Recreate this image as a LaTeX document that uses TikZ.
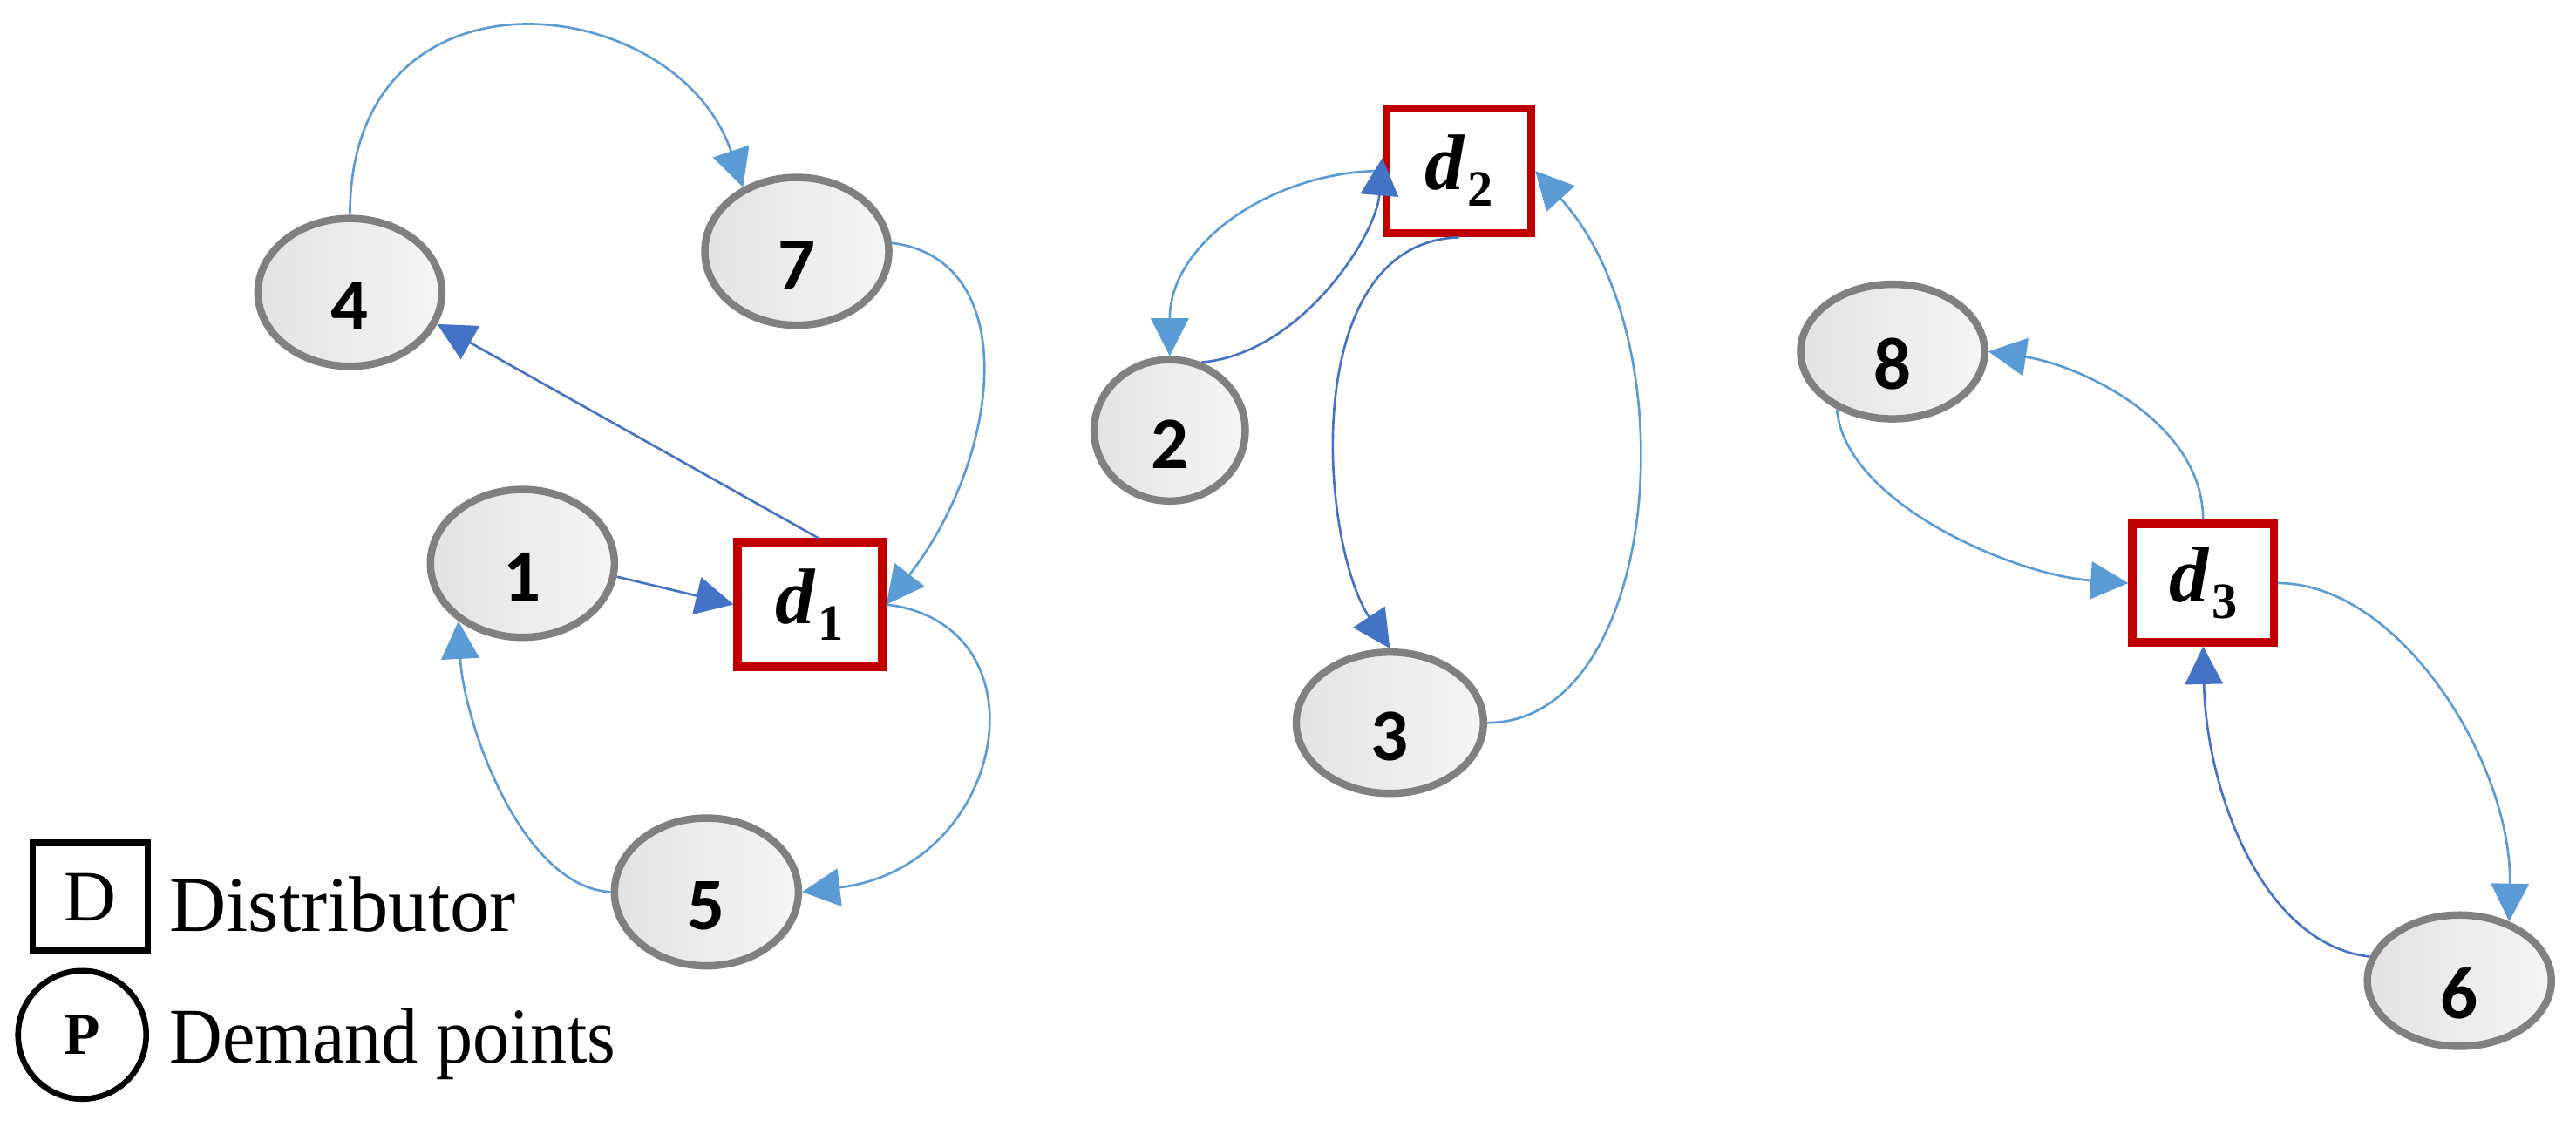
\documentclass[tikz,border=0pt]{standalone}
\usepackage{fontspec}
\setmainfont{Liberation Serif}
\newfontfamily\digitfont{Carlito}
\usetikzlibrary{arrows.meta,shapes.geometric}
\definecolor{lightblue}{HTML}{5B9BD5}
\definecolor{darkblue}{HTML}{4472C4}
\definecolor{boxred}{HTML}{C00000}
\definecolor{nodegray}{HTML}{808080}
\tikzset{
  demand/.style={ellipse, draw=nodegray, line width=4.5pt, left color=gray!22, right color=gray!8,
    minimum width=112pt, minimum height=90pt, inner sep=0pt, text height=46pt, text depth=0pt,
    font=\digitfont\bfseries\fontsize{45}{45}\selectfont},
  dist/.style={rectangle, draw=boxred, line width=5pt, fill=white,
    minimum width=88pt, minimum height=76pt, inner sep=0pt,
    font=\bfseries\itshape\fontsize{48}{48}\selectfont},
  tipstyle/.style={-{Triangle[length=23pt,width=23pt]}},
  lb/.style={draw=lightblue, line width=1.4pt, tipstyle},
  db/.style={draw=darkblue, line width=1.4pt, tipstyle},
  legtext/.style={anchor=base west, inner sep=0pt, font=\fontsize{48}{48}\selectfont}
}
\newcommand{\dlab}[1]{d\kern2pt\raisebox{-10pt}{\upshape\fontsize{31}{31}\selectfont #1}}
\begin{document}
\begin{tikzpicture}[x=1pt, y=-1pt]
\useasboundingbox (0,0) rectangle (1568,686);
% nodes
\node[demand] (n4) at (213,178) {4};
\node[demand] (n7) at (485,153) {7};
\node[demand] (n1) at (318,343) {1};
\node[dist]   (d1) at (493,368) {\dlab{1}};
\node[demand] (n5) at (430,543) {5};
\node[demand, minimum width=92pt, minimum height=86pt] (n2) at (712,262) {2};
\node[dist]   (d2) at (888,104) {\dlab{2}};
\node[demand, minimum width=114pt, minimum height=86pt] (n3) at (846,440) {3};
\node[demand, minimum height=82pt] (n8) at (1152,214) {8};
\node[dist, minimum width=86pt, minimum height=72pt] (d3) at (1341,355) {\dlab{3}};
\node[demand, minimum height=80pt] (n6) at (1497,597) {6};
% connectors, cluster 1
\draw[lb] (n4.north) .. controls +(0,-160) and +(-40,-120) .. (n7.130);
\draw[lb] (n7.5) .. controls +(80,10) and +(70,-90) .. (d1.east);
\draw[db] ([xshift=5pt]d1.north) -- (n4.-20);
\draw[db] (n1.-8) -- (d1.west);
\draw[lb] (d1.east) .. controls +(100,12) and +(125,-15) .. (n5.east);
\draw[lb] (n5.west) .. controls +(-55,-3) and +(3,60) .. (n1.222);
% cluster 2
\draw[lb] (d2.west) .. controls +(-65,0) and +(0,-70) .. (n2.north);
\draw[db] (n2.65) .. controls +(60,-5) and +(-4,48) .. ([yshift=8pt]d2.west);
\draw[db] (d2.south) .. controls +(-98,3) and +(-43,-65) .. (n3.north);
\draw[lb] (n3.east) .. controls +(105,0) and +(95,104) .. (d2.east);
% cluster 3
\draw[lb] (d3.north) .. controls +(0,-60) and +(55,8) .. (n8.east);
\draw[lb] (n8.226) .. controls +(5,57) and +(-70,-5) .. (d3.west);
\draw[lb] (d3.east) .. controls +(75,0) and +(2,-95) .. (n6.50);
\draw[db] (n6.165) .. controls +(-64,-7) and +(2,90) .. (d3.south);
% legend
\node[draw, line width=4pt, minimum width=70pt, minimum height=66pt, inner sep=0pt,
      font=\fontsize{44}{44}\selectfont] (legd) at (55,546) {D};
\node[legtext] (legdt) at (103,567) {Distributor};
\node[circle, draw, line width=3.5pt, minimum size=78pt, inner sep=0pt,
      font=\bfseries\fontsize{36}{36}\selectfont] (legp) at (50,630) {\raisebox{-12pt}{P}};
\node[legtext] (legpt) at (103,647) {\scalebox{0.93}[1]{Demand points}};
\end{tikzpicture}
\end{document}
